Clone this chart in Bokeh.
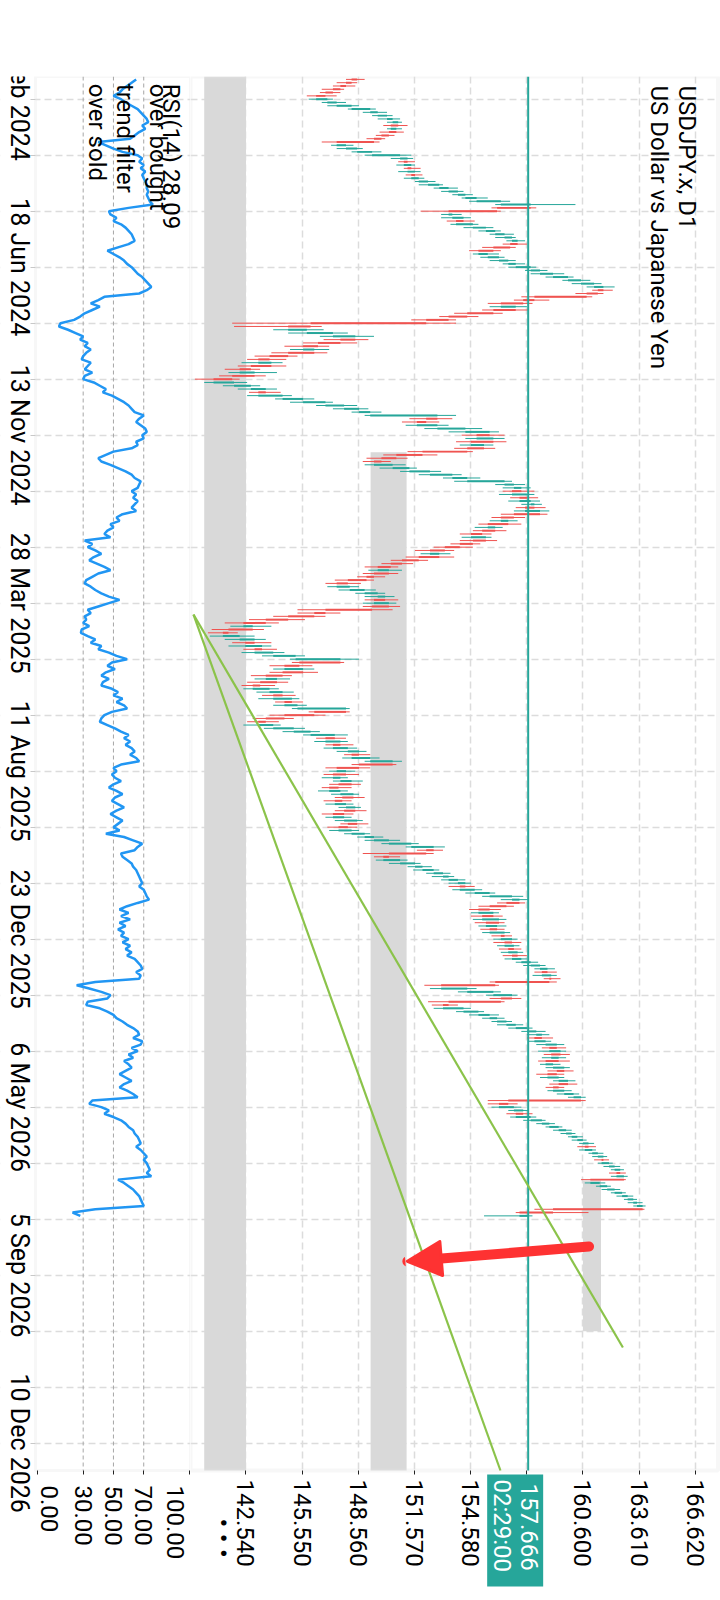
import math
from bokeh.plotting import figure
from bokeh.models import (Range1d, FixedTicker, BoxAnnotation, Label, Arrow, NormalHead,
                          ColumnDataSource, Spacer, PrintfTickFormatter, LinearAxis)
from bokeh.layouts import row, column
from bokeh.embed import file_html
from bokeh.resources import INLINE

FONT = "Roboto"
BULL = "#26a69a"
BEAR = "#ef5350"

# ---------------- data ----------------
first_open = 148.5
closes = [
    148.2, 147.9, 147.6, 147.2, 146.8, 146.3, 146.9, 147.4, 148.2, 149.2,
    149.6, 150.1, 150.4, 150.7, 150.3, 150.6, 150.2, 149.8, 149.4, 147.4,
    147.9, 148.5, 149.3, 150.8, 151.2, 151.0, 151.4, 151.2, 151.6, 151.4,
    151.8, 152.3, 152.9, 153.4, 153.9, 154.3, 154.9, 156.2, 157.8, 156.0,
    153.4, 153.6, 154.2, 153.8, 154.7, 155.4, 155.9, 156.4, 156.8, 157.1,
    156.7, 155.8, 155.0, 155.5, 156.1, 156.6, 157.0, 157.8, 158.3, 159.0,
    159.8, 160.5, 161.2, 161.7, 161.4, 160.8, 158.0, 157.4, 156.2, 157.0,
    155.8, 154.4, 153.4, 152.2, 146.0, 144.8, 145.8, 147.2, 148.4, 147.6,
    146.4, 145.6, 146.2, 144.8, 143.8, 143.2, 143.9, 142.8, 142.2, 143.0,
    141.8, 140.8, 141.9, 142.8, 143.6, 143.2, 144.5, 145.6, 146.8, 147.8,
    148.6, 149.2, 152.8, 152.2, 151.7, 152.8, 154.3, 155.6, 154.9, 155.8,
    154.6, 155.3, 154.4, 152.0, 150.6, 149.8, 149.4, 150.4, 151.3, 152.4,
    153.6, 154.4, 156.4, 156.9, 157.3, 156.8, 157.6, 157.2, 157.8, 158.0,
    157.5, 158.3, 156.9, 156.2, 156.6, 155.5, 155.9, 155.2, 154.6, 155.4,
    154.7, 154.0, 153.2, 152.4, 152.9, 151.8, 150.9, 150.3, 149.6, 150.2,
    149.4, 149.0, 148.0, 147.4, 148.1, 148.9, 149.6, 150.0, 149.4, 150.2,
    149.3, 146.8, 146.2, 144.8, 143.6, 142.4, 142.9, 141.6, 141.3, 142.2,
    143.0, 142.5, 143.4, 143.0, 144.0, 145.2, 147.6, 145.4, 144.6, 145.6,
    144.5, 143.6, 144.2, 143.3, 142.9, 143.8, 144.5, 144.0, 145.0, 144.6,
    145.3, 147.9, 146.2, 144.6, 143.6, 143.2, 144.0, 145.1, 146.0, 147.3,
    146.8, 147.6, 147.2, 148.0, 148.6, 148.2, 149.2, 150.4, 148.6, 147.4,
    147.9, 147.2, 147.6, 148.2, 147.5, 147.0, 147.6, 148.3, 147.7, 147.3,
    147.9, 148.4, 147.8, 147.2, 147.8, 148.5, 148.0, 147.5, 148.2, 148.9,
    149.4, 150.2, 151.4, 152.6, 152.2, 150.2, 149.9, 150.8, 151.6, 152.0,
    152.6, 153.1, 153.4, 153.9, 154.3, 154.0, 154.8, 155.6, 156.8, 157.2,
    156.5, 155.6, 155.0, 155.8, 155.2, 156.1, 155.4, 156.0, 155.6, 156.4,
    156.2, 156.8, 156.4, 156.9, 156.6, 157.1, 156.8, 157.3, 157.8, 158.3,
    158.7, 158.4, 158.9, 158.8, 155.9, 153.0, 154.4, 155.8, 156.8, 156.2,
    153.4, 153.1, 154.2, 155.0, 155.6, 156.0, 156.5, 157.0, 157.6, 158.1,
    158.4, 158.0, 158.6, 159.2, 158.8, 159.4, 158.9, 159.3, 158.6, 159.0,
    159.6, 159.2, 158.7, 159.3, 159.8, 159.3, 159.0, 159.6, 160.1, 160.5,
    156.6, 156.1, 156.9, 157.4, 157.0, 157.8, 158.4, 158.8, 159.3, 159.7,
    160.0, 160.3, 160.6, 160.9, 160.7, 161.1, 161.4, 161.7, 161.6, 162.0,
    162.3, 162.6, 162.4, 162.8, 161.0, 161.5, 161.9, 162.3, 162.7, 163.0,
    163.3, 163.5, 163.8, 159.0, 157.2, 157.666,
]
wick_up = [
    0.4, 0.3, 0.5, 0.2, 0.4, 0.6, 0.3, 0.5, 0.4, 0.3,
    0.5, 0.3, 0.4, 0.2, 0.5, 0.3, 0.4, 0.3, 0.2, 0.3,
    0.4, 0.3, 0.5, 0.6, 0.3, 0.4, 0.2, 0.5, 0.3, 0.4,
    0.3, 0.4, 0.2, 0.5, 0.3, 0.4, 0.6, 0.5, 2.4, 0.3,
    0.2, 0.5, 0.4, 0.6, 0.3, 0.4, 0.3, 0.5, 0.2, 0.4,
    0.5, 0.3, 0.4, 0.6, 0.3, 0.4, 0.5, 0.3, 0.4, 0.6,
    0.3, 0.5, 0.4, 0.6, 0.5, 0.3, 0.3, 0.8, 0.5, 0.6,
    0.7, 0.5, 0.6, 0.4, 1.6, 0.6, 0.9, 0.8, 1.0, 0.7,
    0.9, 0.6, 0.8, 0.7, 0.5, 0.9, 0.6, 0.8, 0.5, 1.2,
    0.6, 0.4, 0.7, 0.5, 0.6, 0.8, 0.5, 0.6, 0.4, 0.7,
    0.5, 0.6, 1.0, 0.8, 0.7, 0.6, 0.9, 0.5, 0.8, 0.6,
    0.7, 0.5, 0.6, 0.3, 0.8, 0.6, 0.5, 0.7, 0.4, 0.6,
    0.5, 0.7, 0.4, 0.6, 0.5, 0.7, 0.4, 0.6, 0.5, 0.4,
    0.6, 0.5, 0.4, 0.6, 0.5, 0.7, 0.4, 0.6, 0.5, 0.3,
    0.6, 0.4, 0.7, 0.5, 0.6, 0.8, 0.5, 0.6, 0.4, 0.7,
    0.5, 0.6, 0.4, 0.7, 0.5, 0.6, 0.4, 0.5, 0.7, 0.4,
    0.6, 1.1, 0.8, 0.6, 0.9, 0.7, 1.0, 0.6, 0.5, 0.8,
    0.6, 0.9, 0.5, 0.8, 0.6, 0.5, 1.0, 0.2, 0.7, 0.6,
    0.8, 0.5, 0.7, 0.6, 0.8, 0.5, 0.6, 0.7, 0.4, 0.6,
    0.5, 0.2, 0.2, 0.6, 0.5, 0.7, 0.4, 0.6, 0.5, 0.7,
    0.6, 0.4, 0.7, 0.5, 0.4, 0.6, 0.5, 0.5, 0.2, 0.6,
    0.5, 0.7, 0.4, 0.6, 0.5, 0.7, 0.4, 0.3, 0.6, 0.5,
    0.4, 0.3, 0.6, 0.5, 0.4, 0.3, 0.6, 0.5, 0.4, 0.3,
    0.5, 0.6, 0.4, 0.6, 0.5, 0.4, 0.6, 0.4, 0.3, 0.5,
    0.3, 0.4, 0.3, 0.4, 0.3, 0.5, 0.4, 0.3, 0.6, 0.5,
    0.3, 0.4, 0.6, 0.3, 0.5, 0.4, 0.3, 0.5, 0.4, 0.3,
    0.4, 0.3, 0.5, 0.3, 0.4, 0.3, 0.5, 0.3, 0.4, 0.3,
    0.4, 0.5, 0.3, 0.5, 0.4, 0.2, 0.5, 0.4, 0.3, 0.5,
    0.2, 0.5, 0.4, 0.3, 0.5, 0.4, 0.3, 0.4, 0.3, 0.5,
    0.4, 0.6, 0.3, 0.4, 0.5, 0.3, 0.5, 0.4, 0.6, 0.4,
    0.3, 0.5, 0.4, 0.3, 0.4, 0.5, 0.3, 0.4, 0.3, 0.25,
    0.25, 0.5, 0.4, 0.3, 0.5, 0.3, 0.2, 0.3, 0.2, 0.3,
    0.2, 0.3, 0.2, 0.3, 0.4, 0.2, 0.3, 0.2, 0.3, 0.2,
    0.3, 0.2, 0.3, 0.2, 0.1, 0.3, 0.2, 0.3, 0.2, 0.3,
    0.2, 0.3, 0.16, 0.1, 1.9, 0.23,
]
wick_dn = [
    0.3, 0.5, 0.4, 0.6, 0.3, 0.5, 0.4, 0.3, 0.5, 0.2,
    0.4, 0.3, 0.5, 0.3, 0.4, 0.2, 0.5, 0.3, 0.4, 0.8,
    0.3, 0.5, 0.3, 0.4, 0.5, 0.3, 0.4, 0.2, 0.5, 0.3,
    0.4, 0.2, 0.5, 0.3, 0.4, 0.3, 0.2, 0.4, 0.3, 0.3,
    1.5, 0.4, 0.6, 0.5, 0.3, 0.5, 0.4, 0.3, 0.5, 0.3,
    0.4, 0.6, 0.5, 0.3, 0.4, 0.5, 0.3, 0.4, 0.3, 0.5,
    0.4, 0.3, 0.5, 0.4, 0.3, 0.6, 0.7, 0.5, 0.7, 0.6,
    0.6, 0.7, 0.5, 0.8, 4.2, 2.9, 0.8, 1.0, 0.7, 0.9,
    0.8, 1.0, 0.7, 0.9, 0.8, 0.6, 0.9, 0.7, 0.8, 0.6,
    0.7, 1.0, 0.5, 0.6, 0.7, 0.5, 0.6, 0.4, 0.7, 0.5,
    0.6, 0.4, 0.3, 0.9, 0.8, 0.6, 0.7, 0.9, 0.8, 0.6,
    0.8, 0.6, 0.7, 0.8, 0.7, 0.8, 0.6, 0.5, 0.7, 0.5,
    0.6, 0.5, 0.7, 0.5, 0.6, 0.5, 0.7, 0.5, 0.6, 0.5,
    0.5, 0.6, 0.7, 0.5, 0.6, 0.5, 0.7, 0.5, 0.6, 0.5,
    0.7, 0.5, 0.6, 0.8, 0.5, 0.7, 0.6, 0.5, 0.7, 0.5,
    0.6, 0.5, 0.7, 0.6, 0.5, 0.6, 0.5, 0.7, 0.5, 0.6,
    0.5, 1.5, 0.9, 0.8, 0.9, 1.0, 0.7, 0.9, 0.8, 0.7,
    0.8, 0.7, 0.9, 0.6, 0.7, 0.6, 0.3, 0.4, 0.8, 0.6,
    0.7, 0.8, 0.6, 0.7, 0.6, 0.5, 0.7, 0.6, 0.8, 0.5,
    0.6, 0.3, 0.3, 0.8, 0.7, 0.6, 0.8, 0.5, 0.6, 0.4,
    0.5, 0.6, 0.4, 0.5, 0.6, 0.4, 0.5, 0.3, 0.4, 0.6,
    0.4, 0.5, 0.6, 0.4, 0.5, 0.4, 0.6, 0.5, 0.4, 0.6,
    0.5, 0.4, 0.5, 0.6, 0.4, 0.5, 0.4, 0.6, 0.5, 0.4,
    0.4, 0.5, 0.4, 0.3, 0.5, 1.4, 0.5, 0.4, 0.6, 0.4,
    0.5, 0.4, 0.6, 0.4, 0.5, 0.6, 0.4, 0.5, 0.4, 0.6,
    0.5, 0.6, 0.5, 0.4, 0.6, 0.5, 0.6, 0.4, 0.5, 0.4,
    0.5, 0.4, 0.6, 0.4, 0.5, 0.4, 0.5, 0.4, 0.3, 0.4,
    0.3, 0.4, 0.5, 0.3, 0.3, 0.9, 0.6, 0.5, 0.4, 0.6,
    1.1, 0.6, 0.5, 0.4, 0.5, 0.4, 0.3, 0.5, 0.4, 0.3,
    0.5, 0.4, 0.3, 0.5, 0.4, 0.6, 0.4, 0.5, 0.4, 0.3,
    0.4, 0.5, 0.6, 0.4, 0.3, 0.5, 0.4, 0.3, 0.4, 0.3,
    1.1, 0.6, 0.4, 0.3, 0.5, 0.3, 0.4, 0.3, 0.2, 0.3,
    0.3, 0.2, 0.3, 0.2, 0.4, 0.3, 0.2, 0.3, 0.4, 0.2,
    0.3, 0.2, 0.4, 0.3, 0.5, 0.3, 0.2, 0.3, 0.2, 0.3,
    0.2, 0.3, 0.2, 1.0, 0.2, 1.9,
]
rsi_values = [
    65, 62, 59, 56, 54, 50, 55, 58, 62, 66,
    68, 70, 72, 73, 69, 71, 67, 64, 61, 40,
    45, 50, 56, 66, 69, 67, 70, 68, 71, 69,
    70, 71, 72, 72, 73, 72, 73, 74, 76, 60,
    47, 48, 52, 50, 55, 58, 60, 62, 63, 64,
    60, 53, 46, 50, 54, 57, 59, 62, 64, 66,
    69, 71, 73, 75, 72, 67, 44, 40, 35, 41,
    36, 31, 28, 24, 15, 14, 20, 25, 30, 28,
    33, 31, 35, 32, 30, 29, 35, 33, 31, 36,
    31, 30, 37, 41, 45, 43, 49, 53, 57, 60,
    62, 64, 70, 67, 65, 68, 71, 72, 69, 70,
    65, 66, 62, 50, 45, 40, 42, 48, 53, 58,
    62, 64, 68, 67, 66, 62, 65, 63, 66, 64,
    62, 65, 56, 52, 54, 48, 50, 46, 44, 48,
    31, 36, 33, 38, 42, 37, 34, 39, 44, 48,
    40, 36, 32, 31, 35, 38, 42, 47, 54, 47,
    40, 33, 35, 31, 32, 30, 34, 29, 28.5, 33,
    38, 35, 42, 40, 47, 52, 59, 49, 46, 51,
    45, 42, 47, 43, 42, 49, 53, 50, 56, 52,
    57, 59, 49, 44, 42, 41, 46, 51, 55, 60,
    57, 61, 58, 62, 64, 61, 65, 67, 55, 50,
    52, 49, 51, 55, 50, 47, 52, 56, 51, 49,
    53, 57, 52, 48, 52, 56, 53, 50, 54, 45,
    57, 63, 69, 66, 64, 55, 56, 59, 62, 63,
    65, 66, 67, 68, 69, 67, 70, 71, 72, 73.5,
    66, 59, 54, 60, 55, 61, 54, 58, 53, 57,
    55, 60, 56, 61, 58, 62, 59, 64, 66, 68,
    69, 65, 68, 67, 38, 25.7, 34, 42, 48, 46,
    33, 32, 41, 46, 50, 52, 56, 59, 63, 66,
    67, 63, 69, 68, 62, 66, 60, 63, 57, 60,
    62, 58, 54, 58, 62, 57, 54, 59, 63, 66,
    36, 34, 42, 47, 44, 50, 55, 58, 60, 63,
    64, 66, 67, 68, 65, 68, 70, 72, 70, 72,
    73, 74, 72, 75, 53, 57, 60, 63, 65, 67,
    68, 69, 70, 38, 23, 28.09,
]
rsi_last = 28.09
rsi_levels = [70, 50, 30]
rsi_level_names = ["over bought", "trend filter", "over sold"]

current_price = 157.666
countdown = "02:29:00"

# time axis: bar-index positions of the grid lines and of the dated labels
time_ticks = [6, 23, 40, 57, 74, 91, 108, 125, 142, 159, 176, 193, 210,
              227, 244, 261, 278, 295, 312, 329, 346, 363, 380, 397, 414]
date_tick_pos = [6, 57, 108, 159, 210, 261, 312, 363, 414]
date_labels = ["2 Feb 2024", "18 Jun 2024", "13 Nov 2024", "28 Mar 2025", "11 Aug 2025",
               "23 Dec 2025", "6 May 2026", "5 Sep 2026", "10 Dec 2026"]

price_ticks = [142.54, 145.55, 148.56, 151.57, 154.58, 157.59, 160.60, 163.61, 166.62]
rsi_ticks = [0, 30, 50, 70, 100]
rsi_label_pos = [8, 30, 50, 70, 91]          # end labels sit inside the panel
rsi_tick_labels = ["0.00", "30.00", "50.00", "70.00", "100.00"]

# shaded zones: price low/high, first bar (None = top), last bar (None = end of axis)
zone_lo = [140.30, 149.22, 160.60]
zone_hi = [142.54, 151.15, 161.57]
zone_top = [None, 113.2, 334.3]
zone_bottom = [None, None, 380.0]

# two trend lines from a common origin (price, bar index)
trend_x0 = [139.726, 139.726]
trend_y0 = [162.45, 162.45]
trend_x1 = [162.744, 156.18]
trend_y1 = [384.97, 422.3]

# red arrow (price, bar index)
arrow_start = (160.93, 354.3)
arrow_end = (151.19, 358.8)

# ---------------- derived ----------------
n = len(closes)
idx = list(range(n))
opens = [first_open] + closes[:-1]
highs = [max(o, c) + u for o, c, u in zip(opens, closes, wick_up)]
lows = [min(o, c) - d for o, c, d in zip(opens, closes, wick_dn)]
colors = [BULL if c >= o else BEAR for o, c in zip(opens, closes)]
src = ColumnDataSource(dict(
    idx=idx, h=highs, l=lows, col=colors,
    blo=[min(o, c) for o, c in zip(opens, closes)],
    bhi=[max(o, c) for o, c in zip(opens, closes)],
))

# vertical (time) scale: panels end at Y_BOT, the canvas continues below for the axes
Y_TOP, Y_BOT = -0.88, 422.3
H = 1514
PANEL_H = 1394
PX_PER_BAR = PANEL_H / (Y_BOT - Y_TOP)
Y_EXT = Y_BOT + (H - PANEL_H) / PX_PER_BAR
y_range = Range1d(start=Y_EXT, end=Y_TOP)

RSI_LO, RSI_HI = -1.5, 100.9          # RSI panel edges
RSI_EXT = -24.62                      # canvas left edge (date label strip)
P_LO, P_HI = 139.565, 167.976         # price canvas edges
P_EDGE = 167.842                      # right edge of the price panel
PX_PER_YEN = 18.655

GRID = "#dcdcdc"
OUTLINE = "#e3e3e3"
TXT_SHIFT = 10                        # baseline correction for rotated labels


def style_bottom_axis(ax, size):
    ax.major_label_orientation = -math.pi / 2
    ax.major_label_text_font = FONT
    ax.major_label_text_font_size = size
    ax.major_label_text_color = "#000000"
    ax.axis_line_color = None
    ax.minor_tick_line_color = None


def vlabel(fig, x, y, text, size="24px", align="left", color="#000000", **kw):
    fig.add_layout(Label(x=x, y=y, text=text, angle=-math.pi / 2,
                         text_align=align, text_baseline="alphabetic",
                         text_font=FONT, text_font_size=size, text_color=color, **kw))


# ---------------- RSI panel (left) ----------------
rp = figure(width=190, height=H, x_range=Range1d(RSI_EXT, RSI_HI), y_range=y_range,
            output_backend="svg", toolbar_location=None,
            min_border_left=0, min_border_right=0, min_border_top=0, min_border_bottom=0)
rp.background_fill_color = "white"
rp.border_fill_color = "white"
rp.outline_line_color = None
rp.xgrid.grid_line_color = None
rp.ygrid.ticker = FixedTicker(ticks=time_ticks)
rp.ygrid.grid_line_color = GRID
rp.ygrid.grid_line_dash = "7 4"
rp.ygrid.grid_line_width = 1.5

# time axis: tick marks on the panel's left edge
rp.yaxis.fixed_location = RSI_LO
rp.yaxis.ticker = FixedTicker(ticks=time_ticks)
rp.yaxis.major_label_overrides = {t: "" for t in time_ticks}
rp.yaxis.major_label_text_font_size = "1px"
rp.yaxis.axis_line_color = None
rp.yaxis.major_tick_out = 5
rp.yaxis.major_tick_in = 0
rp.yaxis.major_tick_line_color = "#c8c8c8"
rp.yaxis.minor_tick_line_color = None

# RSI value axis: ticks, and labels on a second axis so the end labels sit inward
rp.xaxis.fixed_location = Y_BOT
rp.xaxis.ticker = FixedTicker(ticks=rsi_ticks)
rp.xaxis.major_label_overrides = {t: "" for t in rsi_ticks}
rp.xaxis.major_label_text_font_size = "1px"
rp.xaxis.major_tick_out = 4
rp.xaxis.major_tick_in = 0
rp.xaxis.major_tick_line_color = "#222222"
rp.xaxis.axis_line_color = None
rp.xaxis.minor_tick_line_color = None
lab_ax = LinearAxis(fixed_location=Y_BOT, ticker=FixedTicker(ticks=rsi_label_pos),
                    major_label_overrides={p: s for p, s in zip(rsi_label_pos, rsi_tick_labels)},
                    major_tick_line_color=None, major_label_standoff=9)
style_bottom_axis(lab_ax, "24px")
rp.add_layout(lab_ax, "below")

# white masks outside the panel (over the grid, under everything else) and panel frame
rp.add_layout(BoxAnnotation(right=RSI_LO, fill_color="white", fill_alpha=1, line_color=None,
                            level="underlay"))
rp.add_layout(BoxAnnotation(top=Y_BOT, fill_color="white", fill_alpha=1, line_color=None,
                            level="underlay"))
rp.add_layout(BoxAnnotation(left=RSI_LO, right=RSI_HI, top=Y_TOP, bottom=Y_BOT,
                            fill_alpha=0, line_color=OUTLINE, line_width=3, level="underlay"))

rp.segment(x0=rsi_levels, y0=[Y_TOP] * 3, x1=rsi_levels, y1=[Y_BOT] * 3,
           line_color="#a6a6a6", line_dash="4 3", line_width=1)

rp.line(x=rsi_values, y=idx, line_color="#2196f3", line_width=2.5)

rsi_text_x = [81.1, 72.5, 51.35, 32.85]
rsi_texts = ["RSI(14) %.2f" % rsi_last] + rsi_level_names
for tx, tt in zip(rsi_text_x, rsi_texts):
    vlabel(rp, tx, 1.34, tt, x_offset=TXT_SHIFT)

for pos, txt in zip(date_tick_pos, date_labels):
    vlabel(rp, -19.0, pos, txt, size="25px", align="center", x_offset=TXT_SHIFT)

# ---------------- price panel (right) ----------------
pp = figure(width=530, height=H, x_range=Range1d(P_LO, P_HI), y_range=y_range,
            output_backend="svg", toolbar_location=None, y_axis_location=None,
            min_border_left=0, min_border_right=0, min_border_top=0, min_border_bottom=0)
pp.background_fill_color = "white"
pp.border_fill_color = "white"
pp.outline_line_color = None
pp.xaxis.fixed_location = Y_BOT
pp.xaxis.ticker = FixedTicker(ticks=price_ticks)
pp.xaxis.formatter = PrintfTickFormatter(format="%.3f")
style_bottom_axis(pp.xaxis[0], "24px")
pp.xaxis.major_label_standoff = 5
pp.xaxis.major_tick_out = 4
pp.xaxis.major_tick_in = 0
pp.xaxis.major_tick_line_color = "#222222"
pp.xgrid.grid_line_color = GRID
pp.xgrid.grid_line_dash = "7 4"
pp.xgrid.grid_line_width = 1.5
pp.ygrid.ticker = FixedTicker(ticks=time_ticks)
pp.ygrid.grid_line_color = GRID
pp.ygrid.grid_line_dash = "7 4"
pp.ygrid.grid_line_width = 1.5

pp.add_layout(BoxAnnotation(top=Y_BOT, fill_color="white", fill_alpha=1, line_color=None,
                            level="underlay"))
pp.add_layout(BoxAnnotation(left=P_EDGE, fill_color="white", fill_alpha=1, line_color=None,
                            level="underlay"))

for lo, hi, tp, bt in zip(zone_lo, zone_hi, zone_top, zone_bottom):
    kw = dict(left=lo, right=hi, bottom=Y_BOT if bt is None else bt,
              fill_color="#d9d9d9", fill_alpha=1.0, line_color=None, level="underlay")
    if tp is not None:
        kw["top"] = tp
    pp.add_layout(BoxAnnotation(**kw))

pp.add_layout(BoxAnnotation(left=P_LO, right=P_EDGE, top=Y_TOP, bottom=Y_BOT,
                            fill_alpha=0, line_color=OUTLINE, line_width=4, level="underlay"))

pp.segment(x0="l", y0="idx", x1="h", y1="idx", line_color="col", line_width=1, source=src)
pp.hbar(y="idx", left="blo", right="bhi", height=0.6, fill_color="col", line_color=None, source=src)

pp.segment(x0=[current_price], y0=[Y_TOP], x1=[current_price], y1=[Y_BOT],
           line_color="#26a69a", line_width=2)

pp.segment(x0=trend_x0, y0=trend_y0, x1=trend_x1, y1=trend_y1,
           line_color="#8bc34a", line_width=2.2)

pp.add_layout(Arrow(end=NormalHead(size=34, fill_color="#fe3232", line_color="#fe3232",
                                   line_width=3, line_join="round"),
                    x_start=arrow_start[0], y_start=arrow_start[1],
                    x_end=arrow_end[0], y_end=arrow_end[1],
                    line_color="#fe3232", line_width=10, line_cap="round"))

vlabel(pp, 165.67, 1.85, "USDJPY.x, D1", x_offset=TXT_SHIFT)
vlabel(pp, 164.16, 1.85, "US Dollar vs Japanese Yen", x_offset=TXT_SHIFT)

# current price tag below the panel
pp.add_layout(BoxAnnotation(left=current_price - 41 / PX_PER_YEN,
                            right=current_price + 15 / PX_PER_YEN,
                            top=Y_BOT + 4 / PX_PER_BAR, bottom=Y_BOT + 116 / PX_PER_BAR,
                            fill_color="#26a69a", fill_alpha=1, line_color=None))
vlabel(pp, current_price, Y_BOT, "%.3f" % current_price, color="#ffffff",
       x_offset=TXT_SHIFT - 9, y_offset=-13)
vlabel(pp, current_price, Y_BOT, countdown, color="#ffffff",
       x_offset=TXT_SHIFT - 36, y_offset=-9)

pp.add_layout(Label(x=141.33, y=Y_BOT, y_offset=-48, text="\u2022 \u2022 \u2022",
                    angle=-math.pi / 2, text_align="left", text_baseline="middle",
                    text_font=FONT, text_font_size="26px", text_color="#000000"))

layout = column(Spacer(width=720, height=76), row(rp, pp))
open("out.html", "w").write(file_html(layout, INLINE, "USDJPY.x, D1"))
